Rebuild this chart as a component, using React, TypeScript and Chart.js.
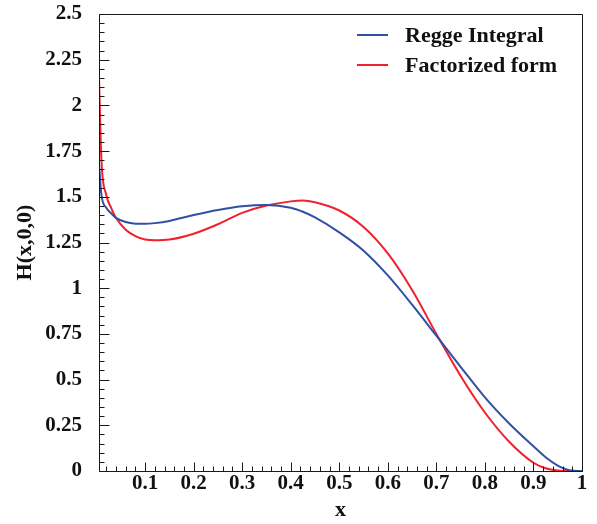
import { useEffect, useRef } from "react";
import { Chart, registerables } from "chart.js";

Chart.register(...registerables);

// Sampled x positions of both curves
const X_VALUES = [
  0.005, 0.01, 0.02, 0.03, 0.04, 0.06, 0.08, 0.1, 0.12, 0.15, 0.2, 0.25, 0.3,
  0.35, 0.4, 0.425, 0.45, 0.5, 0.55, 0.6, 0.65, 0.7, 0.75, 0.8, 0.85, 0.9,
  0.925, 0.95, 0.975, 1.0,
];

// H(x,0,0) from the Regge integral
const REGGE = [
  1.68, 1.51, 1.44, 1.41, 1.385, 1.362, 1.353, 1.352, 1.356, 1.368, 1.4, 1.428,
  1.448, 1.455, 1.44, 1.418, 1.387, 1.305, 1.205, 1.07, 0.91, 0.74, 0.57, 0.403,
  0.26, 0.135, 0.075, 0.03, 0.004, 0,
];

// H(x,0,0) from the factorized form
const FACTORIZED = [
  2.15, 1.7, 1.51, 1.44, 1.385, 1.32, 1.285, 1.266, 1.262, 1.266, 1.298, 1.35,
  1.412, 1.452, 1.475, 1.48, 1.47, 1.425, 1.335, 1.19, 0.99, 0.75, 0.52, 0.32,
  0.16, 0.045, 0.015, 0.003, 0, 0,
];

const SERIES_LABELS = ["Regge Integral", "Factorized form"];
const SERIES_COLORS = ["#3050a4", "#f0202c"];

const X_MIN = 0.005;
const X_MAX = 1.0;
const Y_MIN = 0;
const Y_MAX = 2.5;
const X_TICKS = [0.1, 0.2, 0.3, 0.4, 0.5, 0.6, 0.7, 0.8, 0.9, 1.0];
const Y_TICKS = [0, 0.25, 0.5, 0.75, 1, 1.25, 1.5, 1.75, 2, 2.25, 2.5];
const X_MINOR_STEP = 0.02;
const Y_MINOR_STEP = 0.05;

const FONT_FAMILY = "'Liberation Serif', 'Times New Roman', serif";

// Frame with inward-pointing major and minor ticks on the left and bottom axes
const frameTicks = {
  id: "frameTicks",
  afterDatasetsDraw(chart: any) {
    const { ctx, chartArea: a, scales } = chart;
    const xs = scales.x;
    const ys = scales.y;
    ctx.save();
    ctx.strokeStyle = "#1a1a1a";
    ctx.lineWidth = 1;
    const L = Math.round(a.left) + 0.5;
    const B = Math.round(a.bottom) + 0.5;
    ctx.beginPath();
    ctx.rect(
      L,
      Math.round(a.top) + 0.5,
      Math.round(a.right) - Math.round(a.left),
      Math.round(a.bottom) - Math.round(a.top)
    );
    ctx.stroke();

    ctx.beginPath();
    // y minor ticks
    const ny = Math.round((Y_MAX - Y_MIN) / Y_MINOR_STEP);
    for (let i = 0; i <= ny; i++) {
      const py = Math.round(ys.getPixelForValue(Y_MIN + i * Y_MINOR_STEP)) + 0.5;
      ctx.moveTo(L, py);
      ctx.lineTo(L + 5, py);
    }
    // y major ticks
    for (const v of Y_TICKS) {
      const py = Math.round(ys.getPixelForValue(v)) + 0.5;
      ctx.moveTo(L, py);
      ctx.lineTo(L + 10, py);
    }
    // x minor ticks
    const nx = Math.round(1 / X_MINOR_STEP);
    for (let i = 1; i <= nx; i++) {
      const v = i * X_MINOR_STEP;
      if (v < X_MIN || v > X_MAX + 1e-9) continue;
      const px = Math.round(xs.getPixelForValue(v)) + 0.5;
      ctx.moveTo(px, B);
      ctx.lineTo(px, B - 5);
    }
    // x major ticks
    for (const v of X_TICKS) {
      const px = Math.round(xs.getPixelForValue(v)) + 0.5;
      ctx.moveTo(px, B);
      ctx.lineTo(px, B - 9);
    }
    ctx.stroke();
    ctx.restore();
  },
};

// Legend in the upper right corner of the plot
const cornerLegend = {
  id: "cornerLegend",
  afterDraw(chart: any) {
    const { ctx, chartArea: a } = chart;
    ctx.save();
    ctx.font = `bold 22px ${FONT_FAMILY}`;
    ctx.textBaseline = "middle";
    ctx.textAlign = "left";
    chart.data.datasets.forEach((ds: any, i: number) => {
      const cy = a.top + 21 + i * 30;
      ctx.strokeStyle = ds.borderColor;
      ctx.lineWidth = 2;
      ctx.beginPath();
      ctx.moveTo(a.left + 258, cy);
      ctx.lineTo(a.left + 289, cy);
      ctx.stroke();
      ctx.fillStyle = "#111";
      ctx.fillText(ds.label, a.left + 306, cy + 1);
    });
    ctx.restore();
  },
};

const zeroPadding = (scale: any) => {
  scale.paddingTop = 0;
  scale.paddingBottom = 0;
  scale.paddingLeft = 0;
  scale.paddingRight = 0;
};

export default function App() {
  const canvasRef = useRef<HTMLCanvasElement | null>(null);

  useEffect(() => {
    document.body.style.margin = "0";
    const canvas = canvasRef.current;
    if (!canvas) return;

    const makeSeries = (values: number[]) =>
      X_VALUES.map((x, i) => ({ x, y: values[i] }));

    const tickFont = { family: FONT_FAMILY, size: 21, weight: "bold" as const };

    const chart = new Chart(canvas, {
      type: "line",
      data: {
        datasets: [
          {
            label: SERIES_LABELS[0],
            data: makeSeries(REGGE),
            borderColor: SERIES_COLORS[0],
            borderWidth: 2,
            pointRadius: 0,
            cubicInterpolationMode: "monotone",
            fill: false,
          },
          {
            label: SERIES_LABELS[1],
            data: makeSeries(FACTORIZED),
            borderColor: SERIES_COLORS[1],
            borderWidth: 2,
            pointRadius: 0,
            cubicInterpolationMode: "monotone",
            fill: false,
          },
        ],
      },
      options: {
        animation: false,
        responsive: false,
        devicePixelRatio: 1,
        layout: { padding: { left: 0, top: 14, right: 15, bottom: 0 } },
        plugins: {
          legend: { display: false },
          tooltip: { enabled: false },
        },
        scales: {
          x: {
            type: "linear",
            min: X_MIN,
            max: X_MAX,
            grid: { display: false, drawTicks: false },
            border: { display: false },
            afterBuildTicks: (scale: any) => {
              scale.ticks = X_TICKS.map((value) => ({ value }));
            },
            afterFit: (scale: any) => {
              scale.height = 53;
              zeroPadding(scale);
            },
            ticks: {
              color: "#111",
              font: tickFont,
              padding: 0,
              maxRotation: 0,
              autoSkip: false,
              callback: (v: any) => String(Number(v)),
            },
            title: {
              display: true,
              text: "x",
              color: "#111",
              font: { family: FONT_FAMILY, size: 22, weight: "bold" },
              padding: { top: 0, bottom: 0 },
            },
          },
          y: {
            type: "linear",
            min: Y_MIN,
            max: Y_MAX,
            grid: { display: false, drawTicks: false },
            border: { display: false },
            afterBuildTicks: (scale: any) => {
              scale.ticks = Y_TICKS.map((value) => ({ value }));
            },
            afterFit: (scale: any) => {
              scale.width = 99;
              zeroPadding(scale);
            },
            ticks: {
              color: "#111",
              font: tickFont,
              padding: 17,
              autoSkip: false,
              callback: (v: any) => String(Number(v)),
            },
            title: {
              display: true,
              text: "H(x,0,0)",
              color: "#111",
              font: { family: FONT_FAMILY, size: 22, weight: "bold" },
              padding: { top: 12, bottom: 0 },
            },
          },
        },
      },
      plugins: [frameTicks, cornerLegend],
    });

    return () => chart.destroy();
  }, []);

  return (
    <div style={{ width: 597, height: 524 }}>
      <canvas ref={canvasRef} width={597} height={524} />
    </div>
  );
}
